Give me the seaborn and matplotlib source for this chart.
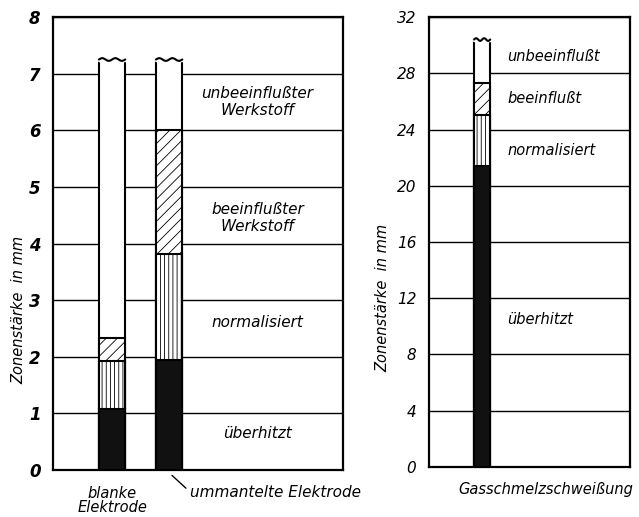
import numpy as np
import seaborn as sns
import matplotlib.pyplot as plt

sns.set_style("white")
plt.rcParams["font.family"] = ["DejaVu Sans"]
plt.rcParams["hatch.linewidth"] = 0.6
plt.rcParams["text.color"] = "black"
plt.rcParams["ytick.color"] = "black"

# left panel: arc welding electrodes, zone thickness in mm
electrodes = ["blanke", "ummantelte"]
overheated = [1.08, 1.95]
normalized = [0.85, 1.87]
influenced = [0.40, 2.18]
uninfluenced = [4.92, 1.25]

left_zone_labels = ["unbeeinflußter\nWerkstoff", "beeinflußter\nWerkstoff", "normalisiert", "überhitzt"]
left_zone_y = [6.5, 4.45, 2.6, 0.65]

# right panel: gas fusion welding
gas = ["gas"]
gas_overheated = [21.4]
gas_normalized = [3.6]
gas_influenced = [2.3]
gas_uninfluenced = [3.1]

right_zone_labels = ["unbeeinflußt", "beeinflußt", "normalisiert", "überhitzt"]
right_zone_y = [29.2, 26.2, 22.5, 10.5]


def stacked(ax, cats, layers, width):
    """Draw stacked bars (top layer first) with seaborn and hatch each layer."""
    styles = [("white", ""), ("white", "///"), ("white", "||||"), ("#111111", "")]
    totals = np.cumsum(np.array(layers), axis=0)[::-1]
    top_patches = None
    for tot, (fc, hatch) in zip(totals, styles):
        n0 = len(ax.patches)
        sns.barplot(x=cats, y=tot, ax=ax, color=fc, edgecolor="black",
                    linewidth=1.5, width=width, saturation=1, zorder=3)
        new = ax.patches[n0:]
        for p in new:
            p.set_facecolor(fc)
            p.set_hatch(hatch)
        if top_patches is None:
            top_patches = list(new)
    # broken (wavy) top of the uninfluenced zone
    for p in top_patches:
        x = np.linspace(p.get_x(), p.get_x() + p.get_width(), 30)
        top = p.get_height()
        amp = (ax.get_ylim()[1] - ax.get_ylim()[0]) * 0.003
        ax.plot([x[0], x[-1]], [top, top], color="white", lw=2.5, zorder=4)
        ax.plot(x, top + amp * np.sin(np.linspace(0, 4 * np.pi, 30)), color="black", lw=1.5, zorder=5)


def style_axes(ax, ymax, step, fs, weight):
    ax.set_ylim(0, ymax)
    ax.set_yticks(np.arange(0, ymax + 0.1, step))
    ax.set_yticklabels([str(int(v)) for v in np.arange(0, ymax + 0.1, step)],
                       fontsize=fs, style="italic", fontweight=weight, color="black")
    ax.set_xticks([])
    ax.set_xlabel("")
    ax.set_ylabel("")
    ax.yaxis.grid(True, color="black", linewidth=1.0)
    ax.set_axisbelow(True)
    ax.tick_params(axis="y", length=0, pad=9)
    for s in ax.spines.values():
        s.set_visible(True)
        s.set_color("black")
        s.set_linewidth(1.6)


fig = plt.figure(figsize=(6.39, 5.17), dpi=100)

ax1 = fig.add_axes([0.083, 0.091, 0.454, 0.876])
ax1.set_ylim(0, 8)
stacked(ax1, electrodes, [overheated, normalized, influenced, uninfluenced], 0.46)
ax1.set_xlim(-1.035, 4.05)
style_axes(ax1, 8, 1, 12, "bold")
for txt, y in zip(left_zone_labels, left_zone_y):
    ax1.text(2.55, y, txt, ha="center", va="center", fontsize=11, style="italic", linespacing=1.1)
ax1.text(-0.117, 0.353, "Zonenstärke  in mm", transform=ax1.transAxes, rotation=90,
         ha="center", va="center", fontsize=10.5, style="italic")
ax1.text(0.0, -0.035, "blanke\nElektrode", transform=ax1.get_xaxis_transform(),
         ha="center", va="top", fontsize=10.5, style="italic", linespacing=0.95)
ax1.annotate("ummantelte Elektrode", xy=(1.05, -0.012), xycoords=ax1.get_xaxis_transform(),
             xytext=(1.37, -0.049), textcoords=ax1.get_xaxis_transform(),
             ha="left", va="center", fontsize=11, style="italic",
             arrowprops=dict(arrowstyle="-", color="black", lw=1.0,
                             shrinkA=1, shrinkB=0, relpos=(0, 0.5)))

ax2 = fig.add_axes([0.671, 0.097, 0.315, 0.870])
ax2.set_ylim(0, 32)
stacked(ax2, gas, [gas_overheated, gas_normalized, gas_influenced, gas_uninfluenced], 0.5)
ax2.set_xlim(-1.66, 4.6)
style_axes(ax2, 32, 4, 11, "normal")
for txt, y in zip(right_zone_labels, right_zone_y):
    ax2.text(0.78, y, txt, ha="left", va="center", fontsize=10.5, style="italic")
ax2.text(-0.23, 0.376, "Zonenstärke  in mm", transform=ax2.transAxes, rotation=90,
         ha="center", va="center", fontsize=10.5, style="italic")
ax2.text(0.58, -0.05, "Gasschmelzschweißung", transform=ax2.transAxes,
         ha="center", va="center", fontsize=10.5, style="italic")

fig.savefig("out.png", dpi=100)
